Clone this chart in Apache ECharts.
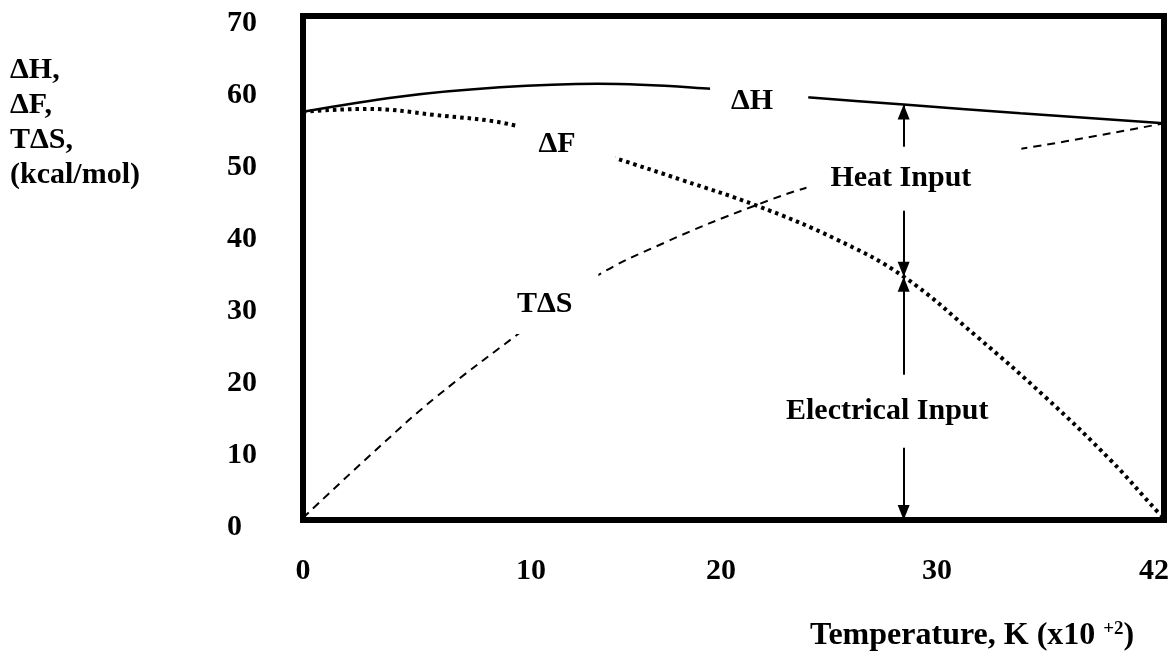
<!DOCTYPE html>
<html>
<head>
<meta charset="utf-8">
<title>ΔH, ΔF, TΔS vs temperature</title>
<script src="https://cdn.jsdelivr.net/npm/echarts@6/dist/echarts.min.js"></script>
<style>
  html, body { margin: 0; padding: 0; background: #fff; }
  #chart { width: 1175px; height: 665px; }
</style>
</head>
<body>
<div id="chart"></div>
<script>
// temperature in units of 10^2 K, energies in kcal/mol
const xTicks = [0, 10, 20, 30, 42];
const xTickLabels = ['0', '10', '20', '30', '42'];

const dH = [[0, 56.7], [4.7, 58.8], [9.6, 60.1], [14.4, 60.6], [19.9, 59.9], [24.6, 58.7], [29.3, 57.7], [35, 56.5], [42, 55.1]];
const dF = [[0, 56.7], [3.1, 57.1], [6.3, 56.3], [10.5, 54.7], [15.2, 50.3], [18.5, 47.2], [22.1, 43.7], [26, 39.0], [29.3, 33.8], [32.9, 25.4], [36.2, 17.1], [39.4, 8.3], [41.7, 1.1], [42, 0.3]];
const TdS = [[0, 0.3], [3.7, 10.1], [6.5, 17.1], [10.9, 26.7], [14.1, 33.5], [17.7, 38.6], [21.9, 43.5], [25, 46.5], [30, 49.8], [34.9, 51.5], [42, 55.1]];

// the two arrows at T = 29.3
const arrowT = 29.3;
const heatInput = [33.8, 57.7];
const elecInput = [0, 33.8];

// curve / arrow labels: text and where its white box sits (data units)
const noteText = ['ΔH', 'ΔF', 'TΔS', 'Heat Input', 'Electrical Input'];
const noteAt = [[22.25, 58.1], [12.86, 52.2], [12.3, 30.0], [29.8, 47.4], [28.5, 15.1]];
// white box round each label cuts the gap in the lines behind it [top, right, bottom, left]
const notePad = [[3, 35, 3, 21], [6, 40, 12, 21], [19, 26, 11, 5], [24, 50, 10, 24], [12, 6, 31, 6]];

// the printed x labels sit a bit off the linear positions (px)
const xLabelShift = { 10: 23, 20: 8, 30: 19, 42: -10 };

const FONT = 'Liberation Serif';
const FS = 30;
const chart = echarts.init(document.getElementById('chart'));

const txt = { fontSize: FS, fontFamily: FONT, fontWeight: 'bold', color: '#000' };

const option = {
  animation: false,
  backgroundColor: '#fff',
  textStyle: { fontFamily: FONT, fontWeight: 'bold', color: '#000' },
  grid: {
    left: 303, right: 11, top: 16, bottom: 145,
    show: true, borderColor: '#000', borderWidth: 6, backgroundColor: 'transparent'
  },
  xAxis: {
    type: 'value', min: 0, max: 42,
    axisLine: { show: false }, axisTick: { show: false }, splitLine: { show: false },
    axisLabel: Object.assign({}, txt, {
      customValues: xTicks,
      margin: 36,
      formatter: (v) => {
        const i = xTicks.indexOf(v);
        return '{t' + i + '|' + xTickLabels[i] + '}';
      },
      rich: Object.fromEntries(xTicks.map((v, i) => {
        const s = xLabelShift[v] || 0;
        return ['t' + i, Object.assign({}, txt, {
          padding: s >= 0 ? [0, 0, 0, 2 * s] : [0, -2 * s, 0, 0]
        })];
      }))
    })
  },
  yAxis: {
    type: 'value', min: 0, max: 70, interval: 10,
    axisLine: { show: false }, axisTick: { show: false }, splitLine: { show: false },
    axisLabel: Object.assign({}, txt, {
      align: 'left', margin: 76,
      formatter: (v) => '{a|' + v + '}',
      rich: { a: Object.assign({}, txt, { padding: [14, 0, 0, 0] }) }
    })
  },
  graphic: [
    {
      type: 'text', left: 10, top: 53,
      style: {
        text: 'ΔH,\nΔF,\nTΔS,\n(kcal/mol)',
        font: 'bold ' + FS + 'px "' + FONT + '"', lineHeight: 35, fill: '#000'
      }
    },
    {
      type: 'text', left: 810, top: 620,
      style: {
        text: 'Temperature, K (x10 {s|+2})',
        font: 'bold 32px "' + FONT + '"', lineHeight: 32, fill: '#000',
        rich: { s: { fontSize: 19, fontFamily: FONT, fontWeight: 'bold', verticalAlign: 'top', lineHeight: 32 } }
      }
    }
  ],
  series: [
    {
      name: 'ΔH', type: 'line', data: dH, smooth: 0.4, showSymbol: false,
      lineStyle: { color: '#000', width: 2.5 },
      markLine: {
        silent: true,
        symbol: ['triangle', 'triangle'],
        symbolSize: [12, 15],
        symbolOffset: [[0, '50%'], [0, '50%']],
        label: { show: false },
        lineStyle: { color: '#000', width: 2, type: 'solid' },
        data: [
          [{ coord: [arrowT, heatInput[0]] }, { coord: [arrowT, heatInput[1]] }],
          [{ coord: [arrowT, elecInput[0]] }, { coord: [arrowT, elecInput[1]] }]
        ]
      }
    },
    {
      name: 'ΔF', type: 'line', data: dF, smooth: 0.4, showSymbol: false,
      lineStyle: { color: '#000', width: 4, type: [3.5, 4] }
    },
    {
      name: 'TΔS', type: 'line', data: TdS, smooth: 0.4, showSymbol: false,
      lineStyle: { color: '#000', width: 2, type: [8, 6] }
    },
    {
      name: 'notes', type: 'scatter', z: 10, silent: true,
      symbolSize: 0,
      itemStyle: { opacity: 1 },
      data: noteText.map((t, i) => ({
        value: noteAt[i],
        label: { formatter: t, padding: notePad[i] }
      })),
      label: Object.assign({}, txt, {
        show: true, position: 'inside', align: 'center', verticalAlign: 'middle',
        backgroundColor: '#fff', opacity: 1
      })
    }
  ]
};

chart.setOption(option);
</script>
</body>
</html>
